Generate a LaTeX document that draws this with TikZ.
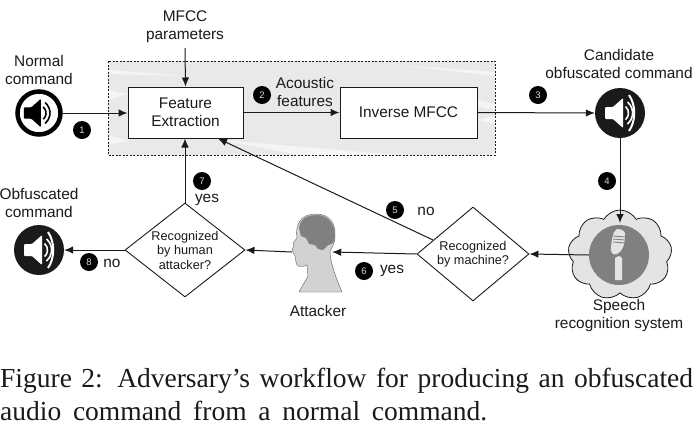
\documentclass[tikz,border=0pt]{standalone}
\usepackage{fontspec}
\setmainfont{Liberation Sans}
\newfontfamily\capfont{Liberation Serif}
\usetikzlibrary{arrows.meta,shapes.geometric,shapes.symbols}
\definecolor{ink}{HTML}{1A1A1A}
\definecolor{panelgray}{HTML}{E9E9E9}
\definecolor{midgray}{HTML}{808080}
\definecolor{lightgray2}{HTML}{E4E4E4}
\tikzset{
  flow/.style={draw=ink,line width=1pt,-{Latex[length=9pt,width=7.5pt]}},
  txt/.style={font=\fontsize{15.4}{18}\selectfont,text=ink,align=center,inner sep=0pt},
  procbox/.style={draw=ink,line width=1pt,fill=white,minimum height=51pt,inner sep=0pt,align=center,font=\fontsize{15.4}{18}\selectfont,text=ink},
  decision/.style={diamond,draw=ink,line width=0.9pt,fill=white,inner sep=0pt},
  dlabel/.style={font=\fontsize{12.7}{14.5}\selectfont,text=ink,align=center,inner sep=0pt},
  badge/.style={circle,fill=black,minimum size=18pt,inner sep=0pt,text=white!85!black,font=\fontsize{9.5}{9.5}\selectfont},
  captext/.style={anchor=base west,inner sep=0pt,font=\capfont\fontsize{27.5}{33}\selectfont,text=ink},
  spk/.style={circle,minimum size=50pt,inner sep=0pt},
  pics/speaker/.style 2 args={code={
    \fill[#1,rounded corners=1pt] (-15,-6) -- (-7,-6) -- (3,-15) -- (3,15) -- (-7,6) -- (-15,6) -- cycle;
    \draw[#1,line width=1.6pt] (5.5,-6.5) arc[start angle=-50,end angle=50,radius=8.5];
    \draw[#1,line width=1.6pt] (7.5,-11) arc[start angle=-50,end angle=50,radius=14.4];
    \ifx#2y\draw[#1,line width=2pt] (9,-18) .. controls (16,-8) and (16,8) .. (9,18);\fi
  }}
}
\begin{document}
\begin{tikzpicture}[x=1pt,y=-1pt]
\useasboundingbox (0,0) rectangle (699,432);
\fill[white] (0,0) rectangle (699,432);
% panel
\fill[panelgray] (108,61) rectangle (495,155);
\begin{scope}
\clip (108,61) rectangle (495,155);
\fill[white,opacity=.55] (108,70) -- (190,76) -- (108,74) -- cycle;
\fill[white,opacity=.55] (108,90) -- (128,94) -- (108,100) -- cycle;
\fill[white,opacity=.55] (220,140) -- (400,155) -- (300,155) -- cycle;
\fill[white,opacity=.55] (400,65) -- (495,72) -- (495,76) -- cycle;
\fill[white,opacity=.55] (477,100) -- (495,104) -- (495,110) -- (477,106) -- cycle;
\fill[white,opacity=.55] (477,120) -- (495,116) -- (495,124) -- cycle;
\fill[white,opacity=.55] (108,135) -- (128,141) -- (108,145) -- cycle;
\end{scope}
\draw[ink,line width=.8pt,dash pattern=on 2pt off 1.5pt] (108,61) rectangle (495,155);
% boxes
\node[procbox,minimum width=115pt] (feature) at (185.5,112.5) {Feature\\Extraction};
\node[procbox,minimum width=137pt] (inverse) at (408.5,112.5) {Inverse MFCC};
% speakers
\node[spk,fill=white,draw=black,line width=4.5pt,minimum size=43pt] (normal) at (39,113) {};
\pic[scale=.95,line width=2pt] at (38,113) {speaker={black}{n}};
\node[spk,fill=ink] (candidate) at (620,113) {};
\pic at (620,113) {speaker={white}{y}};
\node[spk,fill=ink] (obf) at (39,250) {};
\pic at (39,250) {speaker={white}{y}};
% labels
\node[txt] (mfcc) at (185,26.5) {MFCC\\parameters};
\node[txt] (normtxt) at (39,70) {Normal\\command};
\node[txt] (acoustic) at (305,92) {Acoustic\\features};
\node[txt] (candtxt) at (619,64) {Candidate\\obfuscated command};
\node[txt] (obftxt) at (39,203) {Obfuscated\\command};
\node[txt] (speech) at (619,316) {Speech\\recognition system};
\node[txt] (attxt) at (318,311) {Attacker};
\node[txt] (no5) at (426,211) {no};
\node[txt] (yes6) at (392,271) {yes};
\node[txt] (yes7) at (207,200) {yes};
\node[txt] (no8) at (112,263) {no};
% cloud
\node[cloud,cloud puffs=9,cloud puff arc=120,aspect=1.15,draw=ink,line width=.8pt,fill=lightgray2,minimum width=104pt,minimum height=90pt,inner sep=0pt] (cloud) at (620,255) {};
\node[circle,fill=midgray,minimum size=60pt,inner sep=0pt] (mic) at (619,255) {};
\fill[lightgray2] (617,229) .. controls (622,229) and (626,231) .. (625,236) .. controls (625,244) and (623,251) .. (617,254) .. controls (613,256) and (610,252) .. (611,247) .. controls (612,240) and (612,232) .. (617,229) -- cycle;
\fill[lightgray2] (615,258) .. controls (617,256) and (620,255) .. (622,258) -- (622,280) -- (615,280) -- cycle;
\draw[midgray,line width=.9pt] (613,236) -- (625,237) (613,239) -- (625,240) (613,242) -- (625,243);
% attacker
\node[minimum width=40pt,minimum height=60pt,inner sep=0pt] (attacker) at (312,252) {};
\fill[lightgray2!92!black,draw=ink!70,line width=.4pt] (299,292) -- (308,276) -- (307,265) .. controls (302,268) and (296,267) .. (296,262) -- (295,256) -- (293,252) -- (292,250) -- (294,245) -- (293,243) -- (297,238) .. controls (295,225) and (300,214) .. (316,214) .. controls (330,214) and (336,224) .. (335,236) .. controls (335,245) and (331,248) .. (330,251) .. controls (330,262) and (336,278) .. (342,292) -- cycle;
\fill[midgray] (299,228) .. controls (300,218) and (308,215) .. (317,215) .. controls (328,215) and (335,224) .. (335,236) .. controls (335,243) and (331,245) .. (328,245) -- (323,250) -- (318,249) -- (315,245) -- (309,244) -- (306,238) -- (301,236) -- cycle;
% decisions
\node[decision,aspect=1.19,minimum width=112pt,minimum height=94pt,label={[dlabel]center:Recognized\\by machine?}] (machine) at (473,254) {};
\node[decision,aspect=1.28,minimum width=120pt,minimum height=94pt,label={[dlabel]center:Recognized\\by human\\attacker?}] (human) at (185,250) {};
% connectors
\coordinate (mfccend) at (185,48);
\coordinate (fb) at (218,138.5);
\coordinate (mach5) at (433,240);
\coordinate (spkin) at (620,223);
\draw[flow] (mfccend) -- (feature.north);
\draw[flow] (normal.east) -- (feature.west |- normal.east);
\draw[flow] (feature.east) -- (inverse.west);
\draw[flow] (inverse.east) -- (candidate.west);
\draw[flow] (candidate.south) -- (spkin);
\draw[flow] (mic.west) -- (machine.east);
\draw[flow] (machine.west) -- (attacker.east);
\draw[flow] (attacker.west) -- (human.east);
\draw[flow] (human.north) -- (feature.south -| human.north);
\draw[flow] (mach5) -- (fb);
\draw[flow] (human.west) -- (obf.east);
% badges
\node[badge] (b1) at (82,130) {1};
\node[badge] (b2) at (262,95) {2};
\node[badge] (b3) at (538,95) {3};
\node[badge] (b4) at (607,181) {4};
\node[badge] (b5) at (395,210) {5};
\node[badge] (b6) at (364,271) {6};
\node[badge] (b7) at (202,181) {7};
\node[badge] (b8) at (89,262) {8};
% caption
\node[captext] (capone) at (0,387) {\makebox[693pt][s]{Figure 2: Adversary’s workflow for producing an obfuscated}};
\node[captext] (captwo) at (0,420) {\makebox[487pt][s]{audio command from a normal command.}};
\end{tikzpicture}
\end{document}
